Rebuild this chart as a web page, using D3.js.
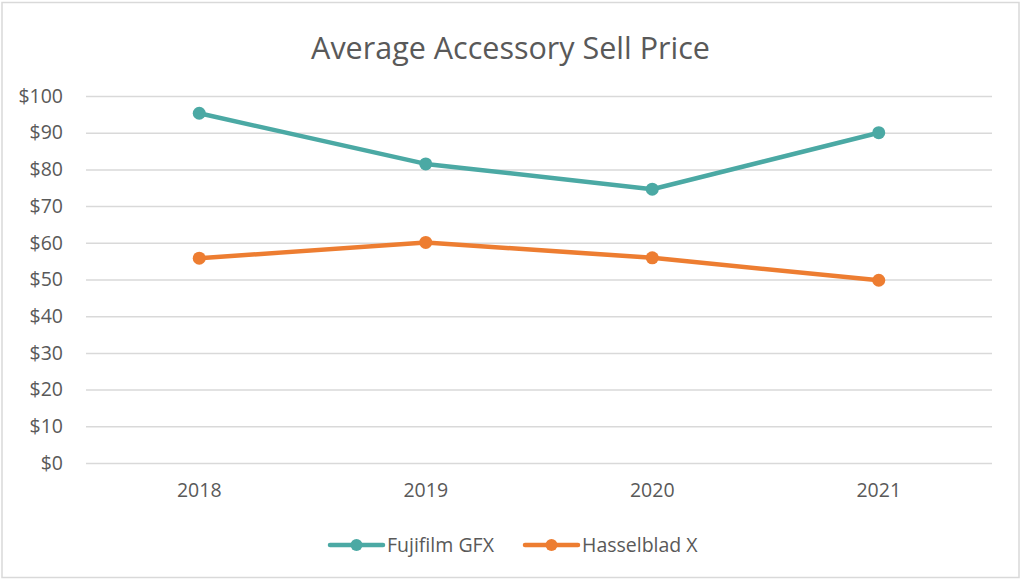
<!DOCTYPE html>
<html><head><meta charset="utf-8">
<script src="https://cdn.jsdelivr.net/npm/d3@7"></script>
<style>body{margin:0;background:#fff;}svg{display:block;font-family:"Open Sans","Noto Sans",sans-serif;}</style>
</head><body><svg id="c" width="1024" height="585"></svg>
<script>
const years = ["2018","2019","2020","2021"];
const fujifilm = [95.3, 81.5, 74.6, 90.0];
const hasselblad = [55.8, 60.1, 55.9, 49.8];
const seriesNames = ["Fujifilm GFX","Hasselblad X"];
const seriesColors = ["#4BA9A4","#ED7D31"];
const yTicks = [0,10,20,30,40,50,60,70,80,90,100];

const svg = d3.select("#c");
svg.append("rect").attr("x",2).attr("y",2.5).attr("width",1017).attr("height",575)
  .attr("fill","#fff").attr("stroke","#d9d9d9").attr("stroke-width",1.5);

const x = d3.scaleBand().domain(years).range([86,992]);
const y = d3.scaleLinear().domain([0,100]).range([463,96]);

svg.append("text").attr("x",510.5).attr("y",59).attr("text-anchor","middle")
  .attr("font-size",30.5).attr("fill","#595959").text("Average Accessory Sell Price");

const yAxis = svg.append("g").attr("transform","translate(86,0)")
  .call(d3.axisLeft(y).tickValues(yTicks).tickSize(-906).tickFormat(d=>"$"+d));
yAxis.select(".domain").remove();
yAxis.selectAll("line").attr("stroke","#d9d9d9").attr("stroke-width",1.5);
yAxis.selectAll("text").attr("x",-23).attr("font-size",19.5).attr("fill","#595959").attr("font-family","Open Sans");

const xAxis = svg.append("g").attr("transform","translate(0,463)")
  .call(d3.axisBottom(x).tickSize(0).tickPadding(20));
xAxis.select(".domain").remove();
xAxis.selectAll("text").attr("font-size",19.5).attr("fill","#595959").attr("font-family","Open Sans");

const data = [fujifilm, hasselblad];
const line = d3.line().x((d,i)=>x(years[i])+x.bandwidth()/2).y(d=>y(d));
data.forEach((vals,k)=>{
  svg.append("path").datum(vals).attr("d",line).attr("fill","none")
    .attr("stroke",seriesColors[k]).attr("stroke-width",4.5).attr("stroke-linejoin","round");
  svg.selectAll(null).data(vals).enter().append("circle")
    .attr("cx",(d,i)=>x(years[i])+x.bandwidth()/2).attr("cy",d=>y(d)).attr("r",6.5)
    .attr("fill",seriesColors[k]);
});

const legendX = [330, 525];
seriesNames.forEach((n,k)=>{
  const g = svg.append("g").attr("transform",`translate(${legendX[k]},545)`);
  g.append("line").attr("x1",0).attr("x2",53).attr("stroke",seriesColors[k]).attr("stroke-width",4.5).attr("stroke-linecap","round");
  g.append("circle").attr("cx",26.5).attr("r",6).attr("fill",seriesColors[k]);
  g.append("text").attr("x",57).attr("y",7).attr("font-size",19.5).attr("fill","#595959").text(n);
});
</script></body></html>
